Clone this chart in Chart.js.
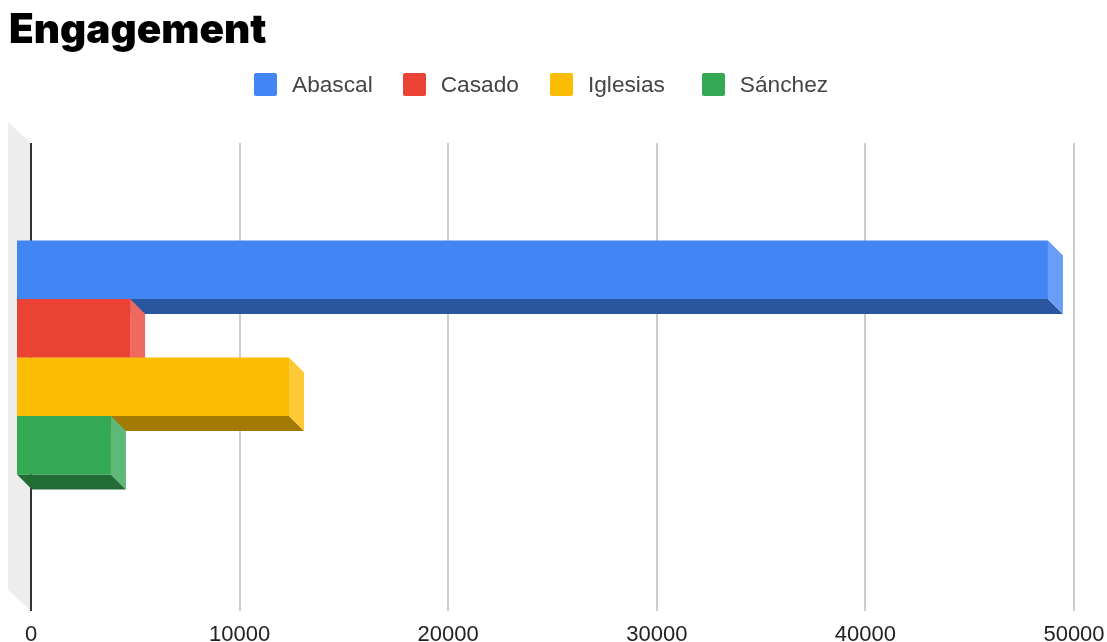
<!DOCTYPE html>
<html>
<head>
<meta charset="utf-8">
<title>Engagement</title>
<script src="https://cdn.jsdelivr.net/npm/chart.js@4"></script>
<style>
    html, body { margin: 0; padding: 0; background: #fff; }
    #wrap { position: relative; width: 1107px; height: 642px; overflow: hidden; }
    #legend { position: absolute; left: 254px; top: 72px; display: flex; align-items: center; height: 25px;
        font: 22.7px "Liberation Sans", Arial, sans-serif; color: #444; }
    #legend span.item { display: flex; align-items: center; }
    #legend i { display: block; width: 23px; height: 23px; border-radius: 2px; margin-right: 15px; }
</style>
</head>
<body>
<div id="wrap">
    <canvas id="chart" width="1107" height="642"></canvas>
    <div id="legend"></div>
</div>
<script>
const categories = ['Engagement'];
const seriesNames = ['Abascal', 'Casado', 'Iglesias', 'Sánchez'];
const seriesValues = [[49470], [5470], [13090], [4550]];
const tickValues = [0, 10000, 20000, 30000, 40000, 50000];

const frontColors = ['#4285F4', '#EA4335', '#FBBC04', '#34A853'];
const sideColors = ['#699DF6', '#EE6A5E', '#FCC934', '#5DB975'];
const bottomColors = ['#2A56A0', '#992C23', '#A37A03', '#226D36'];
const legendGaps = [30, 31, 37, 0];

const DEPTH = 15;     // how far the back of a bar sits from its front face
const LIFT = 4.5;     // bars are a bit above the middle of the plot
const WALL_W = 23;
const WALL_H = 21;

// Grey side wall left of the zero line
const wallPlugin = {
    id: 'wall',
    beforeDraw(chart) {
        const { ctx, chartArea: a } = chart;
        ctx.save();
        ctx.fillStyle = '#ededed';
        ctx.beginPath();
        ctx.moveTo(a.left - WALL_W, a.top - WALL_H);
        ctx.lineTo(a.left, a.top);
        ctx.lineTo(a.left, a.bottom);
        ctx.lineTo(a.left - WALL_W, a.bottom - WALL_H);
        ctx.closePath();
        ctx.fill();
        ctx.restore();
    }
};

function fillFace(ctx, color, points) {
    ctx.fillStyle = color;
    ctx.beginPath();
    points.forEach((p, i) => i ? ctx.lineTo(p[0], p[1]) : ctx.moveTo(p[0], p[1]));
    ctx.closePath();
    ctx.fill();
}

// Fake 3D: each real bar gets pushed up-left with its depth faces behind it.
// Series paint first to last so the lower bars overlap the depth of the upper ones,
// Chart.js would go the other way round so the default drawing is cancelled here.
const depthPlugin = {
    id: 'depth',
    beforeDatasetsDraw(chart) {
        const { ctx } = chart;
        chart.getSortedVisibleDatasetMetas().forEach((meta) => {
            const i = meta.index;
            const bar = meta.data[0];
            const top = bar.y - bar.height / 2 - DEPTH - LIFT;
            const bottom = bar.y + bar.height / 2 - DEPTH - LIFT;
            const left = bar.base - DEPTH;
            const right = bar.x - DEPTH;
            fillFace(ctx, bottomColors[i], [[left, bottom], [right, bottom], [right + DEPTH, bottom + DEPTH], [left + DEPTH, bottom + DEPTH]]);
            fillFace(ctx, sideColors[i], [[right, top], [right + DEPTH, top + DEPTH], [right + DEPTH, bottom + DEPTH], [right, bottom]]);
            ctx.save();
            ctx.translate(-DEPTH, -DEPTH - LIFT);
            meta.controller.draw();
            ctx.restore();
        });
        return false;
    }
};

function buildLegend() {
    const legend = document.getElementById('legend');
    seriesNames.forEach((name, i) => {
        const item = document.createElement('span');
        item.className = 'item';
        item.style.marginRight = legendGaps[i] + 'px';
        item.innerHTML = `<i style="background:${frontColors[i]}"></i>${name}`;
        legend.appendChild(item);
    });
}

function initializeChart() {
    const ctx = document.getElementById('chart').getContext('2d');
    new Chart(ctx, {
        type: 'bar',
        plugins: [wallPlugin, depthPlugin],
        data: {
            labels: categories,
            datasets: seriesNames.map((name, i) => ({
                label: name,
                data: seriesValues[i],
                backgroundColor: frontColors[i],
                categoryPercentage: 0.5,
                barPercentage: 1
            }))
        },
        options: {
            indexAxis: 'y',
            responsive: false,
            animation: false,
            layout: { padding: { left: 9, top: 7, right: 0, bottom: 0 } },
            plugins: {
                legend: { display: false },
                tooltip: { enabled: false },
                title: {
                    display: true,
                    text: 'Engagement',
                    align: 'start',
                    color: '#000',
                    font: { family: 'Inter', size: 40.5, weight: '900' },
                    padding: { top: 0, bottom: 87.4 }
                }
            },
            scales: {
                x: {
                    min: 0,
                    max: 50000,
                    afterFit: (scale) => { scale.paddingLeft = 31; scale.paddingRight = 33; scale.height = 31; },
                    afterBuildTicks: (scale) => { scale.ticks = tickValues.map(value => ({ value })); },
                    border: { display: false },
                    grid: {
                        drawTicks: false,
                        lineWidth: 2,
                        color: (c) => c.tick && c.tick.value === 0 ? '#333333' : '#cccccc'
                    },
                    ticks: {
                        maxRotation: 0,
                        autoSkip: false,
                        padding: 11,
                        color: '#222',
                        font: { family: '"Liberation Sans"', size: 22 },
                        callback: (value) => String(value)
                    }
                },
                y: { display: false }
            }
        }
    });
}

buildLegend();
initializeChart();
</script>
</body>
</html>
